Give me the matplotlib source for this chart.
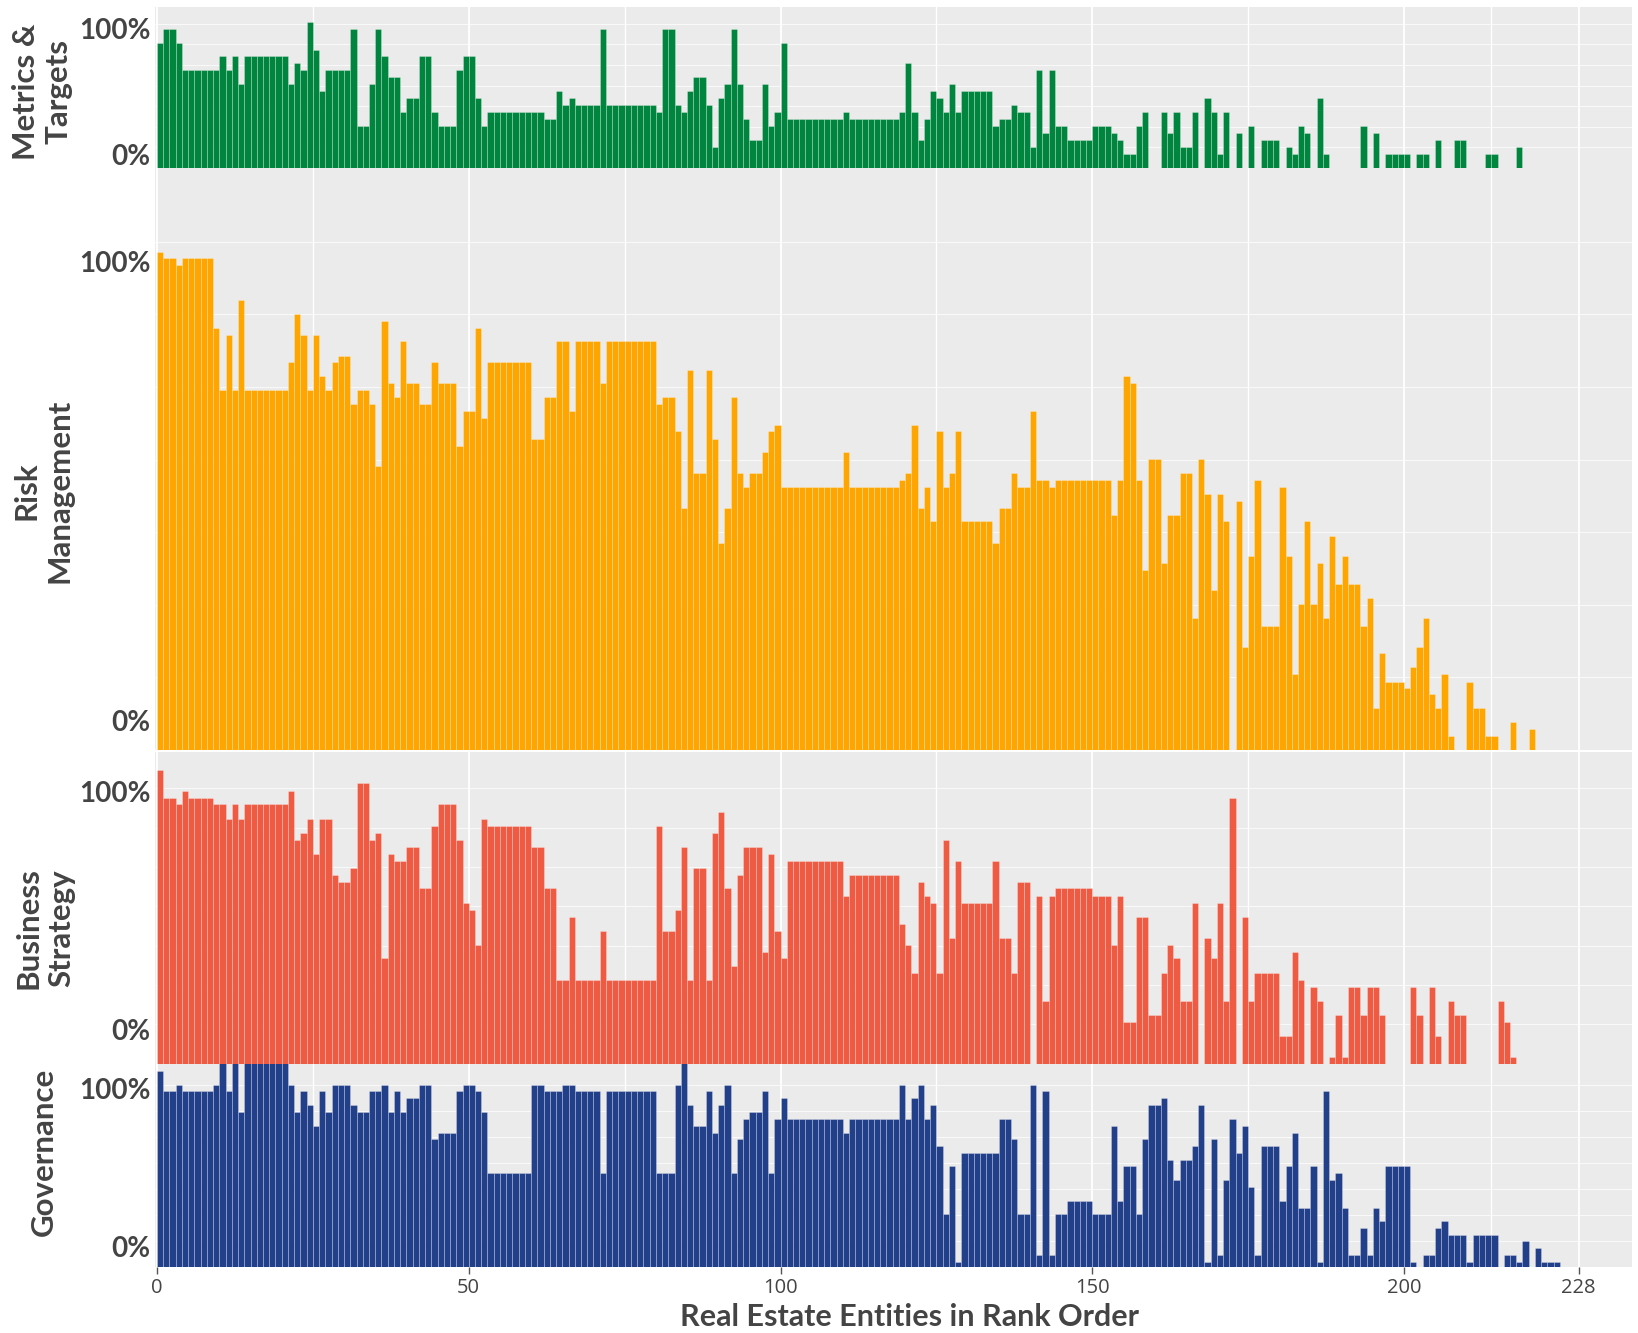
import numpy as np
import matplotlib.pyplot as plt

# pillar scores per entity (% of the 100% mark), entities in rank order
metrics_targets = [
    90, 100, 100, 90, 70, 70, 70, 70, 70, 70, 80, 70, 80, 60, 80, 80, 80, 80, 80, 80, 80, 60, 75, 70, 105,
    85, 55, 70, 70, 70, 70, 100, 30, 30, 60, 100, 80, 65, 65, 40, 50, 50, 80, 80, 40, 30, 30, 30, 70, 80,
    80, 50, 30, 40, 40, 40, 40, 40, 40, 40, 40, 40, 35, 35, 55, 45, 50, 45, 45, 45, 45, 100, 45, 45, 45,
    45, 45, 45, 45, 45, 40, 100, 100, 45, 40, 55, 65, 65, 45, 15, 50, 60, 100, 60, 35, 20, 20, 60, 30, 40,
    90, 35, 35, 35, 35, 35, 35, 35, 35, 35, 40, 35, 35, 35, 35, 35, 35, 35, 35, 40, 75, 40, 20, 35, 55,
    50, 40, 60, 40, 55, 55, 55, 55, 55, 30, 35, 35, 45, 40, 40, 15, 70, 25, 70, 30, 30, 20, 20, 20, 20,
    30, 30, 30, 25, 20, 10, 10, 30, 40, 0, 0, 40, 25, 40, 15, 15, 40, 0, 50, 40, 10, 40, 0, 25, 0,
    30, 0, 20, 20, 20, 0, 15, 10, 30, 25, 0, 50, 10, 0, 0, 0, 0, 0, 30, 0, 25, 0, 10, 10, 10,
    10, 0, 10, 10, 0, 20, 0, 0, 20, 20, 0, 0, 0, 10, 10, 0, 0, 0, 15, 0, 0, 0, 0, 0, 0,
]

risk_management = [
    101.4, 100, 100, 98.6, 100, 100, 100, 100, 100, 85.9, 73.2, 84.5, 73.2, 91.5, 73.2, 73.2, 73.2, 73.2, 73.2, 73.2, 73.2, 78.9, 88.7, 84.5, 73.2,
    84.5, 76.0, 73.2, 78.9, 80.2, 80.2, 70.4, 73.2, 73.2, 70.4, 57.7, 87.3, 74.6, 71.8, 83.1, 74.6, 74.6, 70.4, 70.4, 78.9, 74.6, 74.6, 74.6, 61.9, 69.0,
    69.0, 85.9, 67.5, 78.9, 78.9, 78.9, 78.9, 78.9, 78.9, 78.9, 63.3, 63.3, 71.8, 71.8, 83.1, 83.1, 69.0, 83.1, 83.1, 83.1, 83.1, 74.6, 83.1, 83.1, 83.1,
    83.1, 83.1, 83.1, 83.1, 83.1, 70.4, 71.8, 71.8, 64.8, 49.2, 77.4, 56.3, 56.3, 77.4, 63.3, 42.2, 49.2, 71.8, 56.3, 53.5, 56.3, 56.3, 60.6, 64.8, 66.2,
    53.5, 53.5, 53.5, 53.5, 53.5, 53.5, 53.5, 53.5, 53.5, 53.5, 60.6, 53.5, 53.5, 53.5, 53.5, 53.5, 53.5, 53.5, 53.5, 54.9, 56.3, 66.2, 49.2, 53.5, 46.5,
    64.8, 53.5, 56.3, 64.8, 46.5, 46.5, 46.5, 46.5, 46.5, 42.2, 49.2, 49.2, 56.3, 53.5, 53.5, 69.0, 54.9, 54.9, 53.5, 54.9, 54.9, 54.9, 54.9, 54.9, 54.9,
    54.9, 54.9, 54.9, 47.9, 54.9, 76.0, 74.6, 54.9, 36.7, 59.1, 59.1, 38.0, 47.9, 47.9, 56.3, 56.3, 26.8, 59.1, 52.1, 32.5, 52.1, 46.5, 0, 50.7, 21.0,
    39.4, 54.9, 25.3, 25.3, 25.3, 53.5, 39.4, 15.5, 29.6, 46.5, 29.6, 38.0, 26.8, 43.6, 33.8, 39.4, 33.8, 33.8, 25.3, 31.0, 8.5, 19.8, 13.9, 13.9, 13.9,
    12.7, 16.9, 21.0, 26.8, 11.3, 8.5, 15.5, 2.8, 0, 0, 13.9, 8.5, 8.5, 2.8, 2.8, 0, 0, 5.7, 0, 0, 4.3, 0, 0, 0, 0,
]

business_strategy = [
    110.3, 100, 100, 97.4, 102.5, 100, 100, 100, 100, 97.4, 97.4, 92.0, 97.4, 92.0, 97.4, 97.4, 97.4, 97.4, 97.4, 97.4, 97.4, 102.5, 84.1, 86.7, 92.0,
    78.8, 92.0, 92.0, 70.9, 68.3, 68.3, 73.6, 105.3, 105.3, 84.1, 86.7, 39.5, 78.8, 76.2, 76.2, 81.5, 81.5, 65.8, 65.8, 89.4, 97.4, 97.4, 97.4, 84.1, 60.4,
    57.6, 44.7, 92.0, 89.4, 89.4, 89.4, 89.4, 89.4, 89.4, 89.4, 81.5, 81.5, 65.8, 65.8, 31.3, 31.3, 55.1, 31.3, 31.3, 31.3, 31.3, 49.9, 31.3, 31.3, 31.3,
    31.3, 31.3, 31.3, 31.3, 31.3, 89.4, 49.9, 49.9, 57.6, 81.5, 31.3, 73.6, 73.6, 31.3, 86.7, 94.6, 65.8, 36.6, 70.9, 81.5, 81.5, 81.5, 42.0, 78.8, 49.9,
    39.5, 76.2, 76.2, 76.2, 76.2, 76.2, 76.2, 76.2, 76.2, 76.2, 63.0, 70.9, 70.9, 70.9, 70.9, 70.9, 70.9, 70.9, 70.9, 52.5, 44.7, 34.1, 68.3, 63.0, 60.4,
    34.1, 84.1, 47.2, 76.2, 60.4, 60.4, 60.4, 60.4, 60.4, 76.2, 47.2, 47.2, 34.1, 68.3, 68.3, 0, 63.0, 23.6, 63.0, 65.8, 65.8, 65.8, 65.8, 65.8, 65.8,
    63.0, 63.0, 63.0, 44.7, 63.0, 15.7, 15.7, 55.1, 55.1, 18.2, 18.2, 34.1, 44.7, 39.5, 23.6, 23.6, 60.4, 0, 47.2, 39.5, 60.4, 23.6, 100, 0, 55.1,
    23.6, 34.1, 34.1, 34.1, 34.1, 10.4, 10.4, 42.0, 31.3, 0, 28.8, 23.6, 0, 2.5, 18.2, 2.5, 28.8, 28.8, 18.2, 28.8, 28.8, 18.2, 0, 0, 0,
    0, 28.8, 18.2, 0, 28.8, 10.4, 0, 23.6, 18.2, 18.2, 0, 0, 0, 0, 0, 23.6, 15.7, 2.5, 0, 0, 0, 0, 0, 0, 0,
]

governance = [
    111.6, 100, 100, 103.8, 100, 100, 100, 100, 100, 103.8, 120, 100, 120, 88.2, 120, 120, 120, 120, 120, 120, 120, 103.8, 88.2, 100, 92.0,
    80.5, 100, 88.2, 103.8, 103.8, 103.8, 92.0, 88.2, 88.2, 100, 100, 103.8, 88.2, 100, 88.2, 96.0, 96.0, 103.8, 103.8, 72.7, 76.5, 76.5, 76.5, 100, 103.8,
    103.8, 100, 88.2, 53.5, 53.5, 53.5, 53.5, 53.5, 53.5, 53.5, 103.8, 103.8, 100, 100, 100, 103.8, 103.8, 100, 100, 100, 100, 53.5, 100, 100, 100,
    100, 100, 100, 100, 100, 53.5, 53.5, 53.5, 103.8, 120, 92.0, 80.5, 80.5, 100, 76.5, 92.0, 103.8, 53.5, 72.7, 84.4, 88.2, 88.2, 100, 53.5, 84.4,
    96.0, 84.4, 84.4, 84.4, 84.4, 84.4, 84.4, 84.4, 84.4, 84.4, 76.5, 84.4, 84.4, 84.4, 84.4, 84.4, 84.4, 84.4, 84.4, 103.8, 84.4, 96.0, 103.8, 84.4, 92.0,
    68.9, 30.0, 57.3, 2.8, 64.9, 64.9, 64.9, 64.9, 64.9, 64.9, 84.4, 84.4, 72.7, 30.0, 30.0, 103.8, 6.6, 100, 6.6, 30.0, 30.0, 37.6, 37.6, 37.6, 37.6,
    30.0, 30.0, 30.0, 80.5, 37.6, 57.3, 57.3, 30.0, 72.7, 92.0, 92.0, 96.0, 61.1, 49.3, 61.1, 61.1, 68.9, 92.0, 2.8, 72.7, 6.6, 49.3, 84.4, 64.9, 80.5,
    45.5, 6.6, 68.9, 68.9, 68.9, 37.6, 57.3, 76.5, 33.8, 33.8, 57.3, 2.8, 100, 49.3, 53.5, 33.8, 6.6, 6.6, 22.2, 6.6, 33.8, 26.2, 57.3, 57.3, 57.3,
    57.3, 2.8, 0, 6.6, 6.6, 22.2, 26.2, 18.4, 18.4, 18.4, 2.8, 18.4, 18.4, 18.4, 18.4, 0, 6.6, 6.6, 2.8, 14.6, 0, 10.8, 2.8, 2.8, 2.8,
]

series = [metrics_targets, risk_management, business_strategy, governance]
names = ['Metrics &\nTargets', 'Risk\nManagement', 'Business\nStrategy', 'Governance']
colors = ['#00853E', '#FFA500', '#EF5B42', '#223F8A']
x_ticks = [0, 50, 100, 150, 200, 228]
x_minor = [25, 75, 125, 175, 214]

W, H = 1638, 1333
TXT = '#444444'
BG = '#EBEBEB'

# layout in pixels: panel top, bar base, pixels per 100%
panels = [(7, 168, 139.4), (168, 750, 491.6), (752, 1063.5, 266), (1064, 1267, 175.7)]
tick_at = [(9.4, 100), (6.1, 99.3), (12.9, 102.4), (11.6, 101.4)]
name_xy = [(42, 92), (43, 491), (45, 928), (44, 1152)]
left, right = 155, 1632
x0, ppu = 157, 6.235

fig = plt.figure(figsize=(W / 100, H / 100), dpi=100)

for i, vals in enumerate(series):
    top, base, scale = panels[i]
    ax = fig.add_axes([left / W, 1 - base / H, (right - left) / W, (base - top) / H])
    ax.set_facecolor(BG)
    for s in ax.spines.values():
        s.set_visible(False)
    ax.set_xlim((left - x0) / ppu, (right - x0) / ppu)
    ax.set_ylim(0, (base - top) / scale * 100)

    for k in range(1, 8):
        ax.axhline(k * 14.77, color='white', lw=0.8, alpha=0.7, zorder=0.4)
    ax.set_xticks(x_ticks)
    ax.set_xticks(x_minor, minor=True)
    ax.grid(axis='x', which='major', color='white', lw=1.3, zorder=0.5)
    ax.grid(axis='x', which='minor', color='white', lw=1.0, zorder=0.5)
    ax.set_axisbelow(True)

    ax.bar(np.arange(len(vals)), vals, width=1.0, align='edge', color=colors[i],
           edgecolor=(1, 1, 1, 0.4), linewidth=0.45, zorder=2)

    ax.set_yticks(tick_at[i])
    ax.set_yticklabels(['0%', '100%'], fontsize=20, fontweight='bold', color=TXT, family='Lato')
    ax.tick_params(axis='y', length=0, pad=3)
    ax.tick_params(axis='x', which='minor', length=0)

    if i < 3:
        ax.tick_params(axis='x', which='major', length=0, labelbottom=False)
    else:
        ax.set_xticklabels([str(t) for t in x_ticks], fontsize=14.5, color=TXT, family='Open Sans')
        ax.tick_params(axis='x', which='major', length=5, width=1, color='#555555', pad=3)

    fig.text(name_xy[i][0] / W, 1 - name_xy[i][1] / H, names[i], rotation=90,
             ha='center', va='center', fontsize=22.5, fontweight='bold', color=TXT,
             family='Lato', linespacing=1.2, multialignment='center')

fig.text(909 / W, 1 - 1331 / H, 'Real Estate Entities in Rank Order', ha='center', va='bottom',
         fontsize=22, fontweight='bold', color=TXT, family='Lato')

fig.savefig('out.png', dpi=100)
